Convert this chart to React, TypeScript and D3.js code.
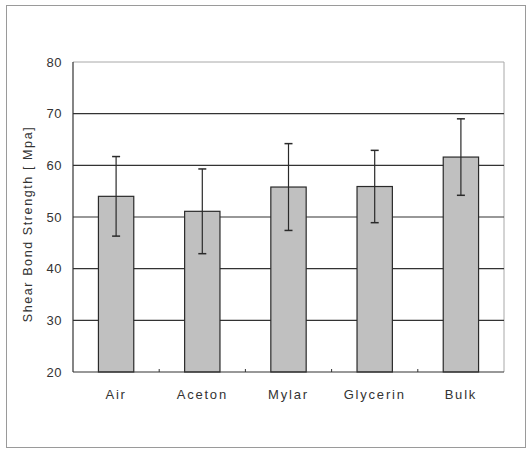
import * as d3 from 'd3';

const categories = ['Air', 'Aceton', 'Mylar', 'Glycerin', 'Bulk'];
const means = [54.0, 51.1, 55.8, 55.9, 61.6];
const errors = [7.7, 8.2, 8.4, 7.0, 7.4];
const yTicks = [20, 30, 40, 50, 60, 70, 80];
const yTitle = 'Shear Bond Strength [ Mpa]';

const width = 527;
const height = 449;
const margin = { top: 62, right: 23, bottom: 77, left: 73 };
const innerWidth = width - margin.left - margin.right;
const innerHeight = height - margin.top - margin.bottom;

const font = '"Liberation Sans", Arial, sans-serif';

export default function App() {
  const x = d3.scaleBand<string>().domain(categories).range([0, innerWidth]).padding(0);
  const y = d3.scaleLinear().domain([20, 80]).range([innerHeight, 0]);
  const barW = x.bandwidth() * 0.41;
  const cap = 4;

  return (
    <svg
      width={width}
      height={height}
      style={{ position: 'absolute', left: 0, top: 0, background: '#fff' }}
    >
      <rect x={6.5} y={5.5} width={519} height={442} fill="#fff" stroke="#9a9a9a" />
      <g transform={`translate(${margin.left},${margin.top})`}>
        {/* plot frame, light on top and right */}
        <line x1={0} x2={innerWidth} y1={0} y2={0} stroke="#a8a8a8" />
        <line x1={innerWidth} x2={innerWidth} y1={0} y2={innerHeight} stroke="#a8a8a8" />
        {yTicks.slice(1, -1).map((t) => (
          <line key={t} x1={0} x2={innerWidth} y1={y(t)} y2={y(t)} stroke="#333" strokeWidth={1.2} />
        ))}
        {categories.map((c, i) => {
          const cx = x(c)! + x.bandwidth() / 2;
          const lo = y(means[i] - errors[i]);
          const hi = y(means[i] + errors[i]);
          return (
            <g key={c}>
              <rect
                x={cx - barW / 2}
                y={y(means[i])}
                width={barW}
                height={innerHeight - y(means[i])}
                fill="#c0c0c0"
                stroke="#2a2a2a"
                strokeWidth={1.2}
              />
              <line x1={cx} x2={cx} y1={hi} y2={lo} stroke="#2a2a2a" strokeWidth={1.2} />
              <line x1={cx - cap} x2={cx + cap} y1={hi} y2={hi} stroke="#2a2a2a" strokeWidth={1.5} />
              <line x1={cx - cap} x2={cx + cap} y1={lo} y2={lo} stroke="#2a2a2a" strokeWidth={1.5} />
            </g>
          );
        })}
        {/* axes */}
        <line x1={0} x2={0} y1={0} y2={innerHeight} stroke="#333" strokeWidth={1.2} />
        <line x1={0} x2={innerWidth} y1={innerHeight} y2={innerHeight} stroke="#333" strokeWidth={1.2} />
        {categories.slice(1).map((c) => (
          <line key={c} x1={x(c)!} x2={x(c)!} y1={innerHeight} y2={innerHeight - 3} stroke="#333" />
        ))}
        {yTicks.map((t) => (
          <text
            key={t}
            x={-11}
            y={y(t)}
            dy="0.35em"
            textAnchor="end"
            fontFamily={font}
            fontSize={13}
            letterSpacing={0.5}
            fill="#333"
          >
            {t}
          </text>
        ))}
        {categories.map((c) => (
          <text
            key={c}
            x={x(c)! + x.bandwidth() / 2}
            y={innerHeight + 27}
            textAnchor="middle"
            fontFamily={font}
            fontSize={13}
            letterSpacing={1.8}
            fill="#333"
          >
            {c}
          </text>
        ))}
      </g>
      <text
        transform={`translate(32,224) rotate(-90)`}
        textAnchor="middle"
        fontFamily={font}
        fontSize={12.5}
        letterSpacing={1.6}
        fill="#333"
      >
        {yTitle}
      </text>
    </svg>
  );
}
